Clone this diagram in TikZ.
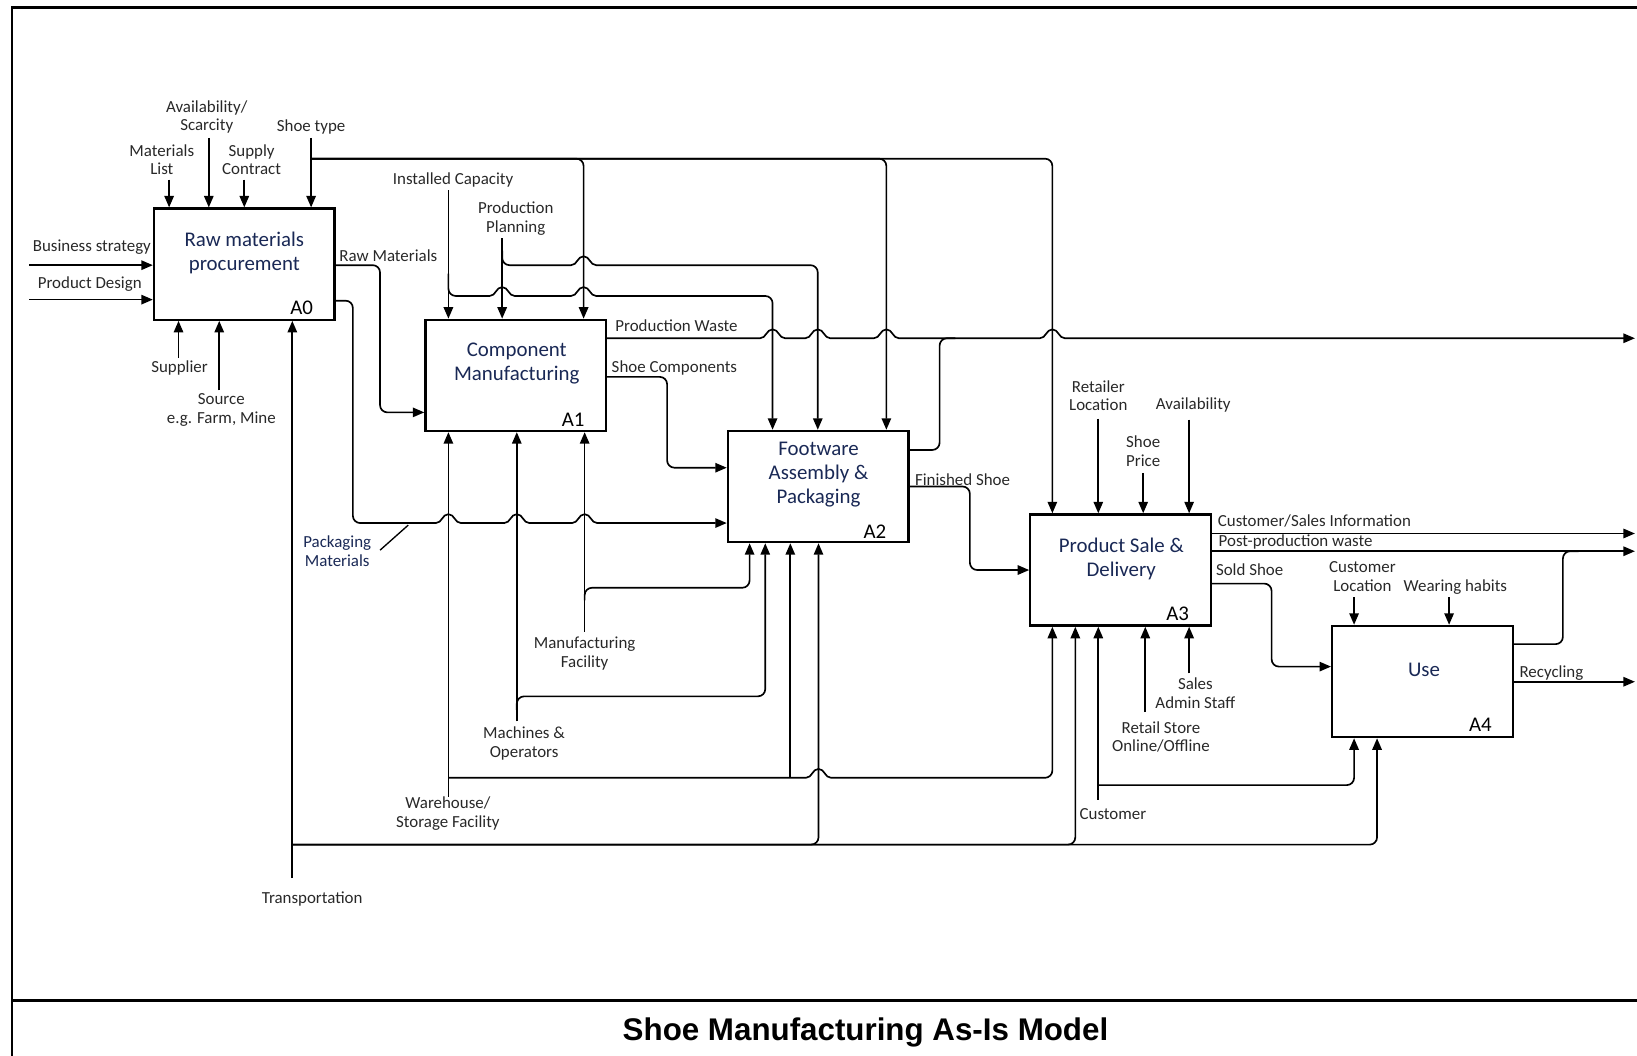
\documentclass[tikz,border=0pt]{standalone}
\usepackage{fontspec}
\setmainfont{Carlito}
\newfontfamily\titlefont{Liberation Sans}
\usetikzlibrary{arrows.meta}
\definecolor{navy}{RGB}{25,40,85}
\definecolor{lblc}{RGB}{40,40,40}
\newcommand\hop[2]{-- ({#1-20},#2) [sharp corners] -- ({#1-12},#2) .. controls ({#1-6},#2) and ({#1-6},{#2-8.5}) .. (#1,{#2-8.5}) .. controls ({#1+6},{#2-8.5}) and ({#1+6},#2) .. ({#1+12},#2) -- ({#1+20},#2) [rounded corners=7pt]}
\begin{document}
\begin{tikzpicture}[x=1pt,y=-1pt,
  arr/.style={-{Triangle[length=11pt,width=9pt]}, line width=1.6pt, rounded corners=7pt},
  ln/.style={line width=1.6pt, rounded corners=7pt},
  box/.style={draw, line width=2.2pt, minimum width=173pt, minimum height=106.5pt, inner sep=0pt},
  btxt/.style={font=\fontsize{20}{23}\selectfont, text=navy, align=center, inner sep=0pt},
  bid/.style={font=\fontsize{20}{23}\selectfont, inner sep=0pt},
  lbl/.style={font=\fontsize{16.2}{18}\selectfont, text=lblc, align=center, inner sep=0pt},
]
\useasboundingbox (0,0) rectangle (1568,1011);
% frame
\draw[line width=2.8pt] (1568,7.5) -- (11.5,7.5) -- (11.5,1011);
\draw[line width=2.8pt] (11.5,958) -- (1568,958);
\node[font=\titlefont\bfseries\fontsize{30}{36}\selectfont, inner sep=0pt] (title) at (829,988.5) {Shoe Manufacturing As-Is Model};
% boxes
\node[box] (b0) at (234,253) {};
\node[box] (b1) at (494,359.6) {};
\node[box] (b2) at (783.7,466) {};
\node[box] (b3) at (1073.4,546) {};
\node[box] (b4) at (1362.5,652.8) {};
\node[btxt] (t0) at (234,242) {Raw materials\\procurement};
\node[btxt] (t1) at (495,348) {Component\\Manufacturing};
\node[btxt] (t2) at (784,455) {Footware\\Assembly \&\\Packaging};
\node[btxt] (t3) at (1074,535) {Product Sale \&\\Delivery};
\node[btxt] (t4) at (1364,642) {Use};
\node[bid] (i0) at (289,295) {A0};
\node[bid] (i1) at (549,402) {A1};
\node[bid] (i2) at (838,509) {A2};
\node[bid] (i3) at (1128,588) {A3};
\node[bid] (i4) at (1418,694) {A4};
% labels
\node[lbl] (lBS) at (88,237) {Business strategy};
\node[lbl] (lPD) at (86,272) {Product Design};
\node[lbl] (lML) at (155,153) {Materials\\List};
\node[lbl] (lAS) at (198,112) {Availability/\\Scarcity};
\node[lbl] (lSC) at (241,153) {Supply\\Contract};
\node[lbl] (lST) at (298,122) {Shoe type};
\node[lbl] (lIC) at (434,172) {Installed Capacity};
\node[lbl] (lPP) at (494,209) {Production\\Planning};
\node[lbl] (lRM) at (372,245) {Raw Materials};
\node[lbl] (lPW) at (648,312) {Production Waste};
\node[lbl] (lSCo) at (646,352) {Shoe Components};
\node[lbl] (lSu) at (172,352) {Supplier};
\node[lbl] (lSo) at (212,393) {Source\\e.g. Farm, Mine};
\node[lbl,text=navy] (lPM) at (323,528) {Packaging\\Materials};
\node[lbl] (lMF) at (560,626) {Manufacturing\\Facility};
\node[lbl] (lMO) at (502,712) {Machines \&\\Operators};
\node[lbl] (lWS) at (429,779) {Warehouse/\\Storage Facility};
\node[lbl] (lTr) at (299,861) {Transportation};
\node[lbl] (lFS) at (922,459) {Finished Shoe};
\node[lbl] (lRL) at (1052,379) {Retailer\\Location};
\node[lbl] (lSP) at (1095,432) {Shoe\\Price};
\node[lbl] (lAv) at (1143,388) {Availability};
\node[lbl] (lCS) at (1259,499) {Customer/Sales Information};
\node[lbl] (lPPW) at (1241,519) {Post-production waste};
\node[lbl] (lSS) at (1197,546) {Sold Shoe};
\node[lbl] (lCL) at (1305,552) {Customer\\Location};
\node[lbl] (lWH) at (1394,562) {Wearing habits};
\node[lbl] (lSA) at (1145,664) {Sales\\Admin Staff};
\node[lbl] (lRS) at (1112,706) {Retail Store\\Online/Offline};
\node[lbl] (lCu) at (1066,780) {Customer};
\node[lbl] (lRe) at (1486,645) {Recycling};
% A0 inputs / controls
\draw[arr] (28,254) -- (b0.west |- 0,254);
\draw[arr] (28,287) -- (b0.west |- 0,287);
\draw[arr] (162,172) -- (162,0 |- b0.north);
\draw[arr] (200,132) -- (200,0 |- b0.north);
\draw[arr] (234,172) -- (234,0 |- b0.north);
\draw[arr] (298,132) -- (298,0 |- b0.north);
\draw[arr] (298,152) -- (559,152) -- (559,0 |- b1.north);
\draw[arr] (298,152) -- (849,152) -- (849,0 |- b2.north);
\draw[arr] (298,152) -- (1008,152) -- (1008,0 |- b3.north);
% A0 mechanisms
\draw[arr] (171,343) -- (171,0 |- b0.south);
\draw[arr] (210,374) -- (210,0 |- b0.south);
% installed capacity / production planning
\draw[arr] (429.5,182) -- (429.5,0 |- b1.north);
\draw[arr] (429.5,262) -- (429.5,283.5) \hop{481}{283.5} \hop{559}{283.5} -- (740,283.5) -- (740,0 |- b2.north);
\draw[arr] (481,228) -- (481,0 |- b1.north);
\draw[arr] (481,240) -- (481,254) \hop{559}{254} -- (783.3,254) -- (783.3,0 |- b2.north);
% A0 outputs
\draw[arr] (b0.east |- 0,254) -- (364,254) -- (364,395) -- (b1.west |- 0,395);
\draw[arr] (b0.east |- 0,288) -- (338,288) -- (338,501) \hop{429.5}{501} \hop{495}{501} \hop{560}{501} -- (b2.west |- 0,501);
\draw[line width=1.3pt] (364,527) -- (391,503);
% A1 outputs
\draw[arr] (b1.east |- 0,324) \hop{740}{324} \hop{783.3}{324} \hop{849}{324} \hop{1008}{324} -- (1566,324);
\draw[ln] (b2.east |- 0,431) -- (900,431) -- (900,324) -- (915,324);
\draw[arr] (b1.east |- 0,361) -- (639,361) -- (639,448) -- (b2.west |- 0,448);
% A1 / A2 mechanisms
\draw[arr] (429.5,763) -- (429.5,0 |- b1.south);
\draw[arr] (429.5,745) \hop{784}{745} -- (1008,745) -- (1008,0 |- b3.south);
\draw[arr] (757,745) -- (757,0 |- b2.south);
\draw[arr] (495,691) -- (495,0 |- b1.south);
\draw[arr] (495,680) -- (495,667) -- (733,667) -- (733,0 |- b2.south);
\draw[arr] (560,605) -- (560,0 |- b1.south);
\draw[arr] (560,575) -- (560,563) -- (718,563) -- (718,0 |- b2.south);
% transportation
\draw[arr] (280,841) -- (280,0 |- b0.south);
\draw[arr] (280,809) -- (784,809) -- (784,0 |- b2.south);
\draw[arr] (280,809) -- (1030,809) -- (1030,0 |- b3.south);
\draw[arr] (280,809) -- (1319,809) -- (1319,0 |- b4.south);
% A2 output
\draw[arr] (b2.east |- 0,466) -- (929,466) -- (929,546) -- (b3.west |- 0,546);
% A3 controls
\draw[arr] (1052,401) -- (1052,0 |- b3.north);
\draw[arr] (1095,453) -- (1095,0 |- b3.north);
\draw[arr] (1139,402) -- (1139,0 |- b3.north);
% A3 outputs
\draw[arr] (b3.east |- 0,511) -- (1566,511);
\draw[arr] (b3.east |- 0,528) -- (1566,528);
\draw[arr] (b3.east |- 0,559) -- (1218,559) -- (1218,638.5) -- (b4.west |- 0,638.5);
\draw[ln] (b4.east |- 0,617) -- (1497,617) -- (1497,528) -- (1512,528);
% A3 mechanisms
\draw[arr] (1139,645) -- (1139,0 |- b3.south);
\draw[arr] (1097,682) -- (1097,0 |- b3.south);
\draw[arr] (1052,766) -- (1052,0 |- b3.south);
\draw[arr] (1052,752) -- (1297,752) -- (1297,0 |- b4.south);
% A4
\draw[arr] (1297,572) -- (1297,0 |- b4.north);
\draw[arr] (1388,572) -- (1388,0 |- b4.north);
\draw[arr] (b4.east |- 0,653) -- (1566,653);
\end{tikzpicture}
\end{document}
